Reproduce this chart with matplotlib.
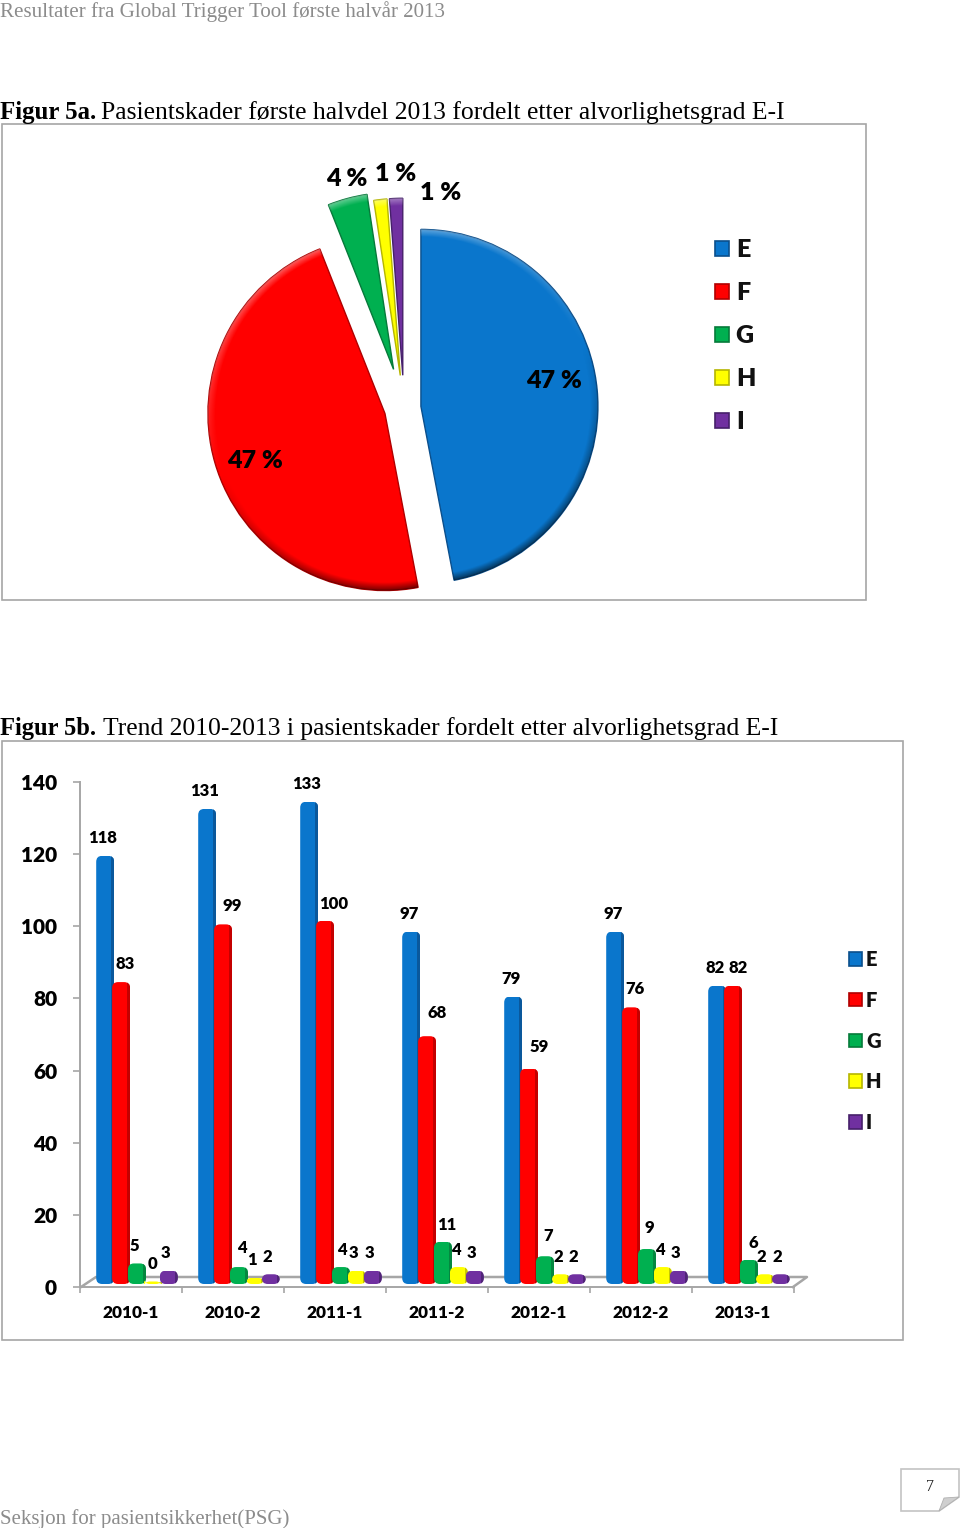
import matplotlib
matplotlib.use("Agg")
import matplotlib.pyplot as plt
import numpy as np
from matplotlib.patches import FancyBboxPatch, Patch, Polygon, Rectangle
from matplotlib.lines import Line2D

W, H = 960, 1528
SANS = "Lato"
SERIF = "Liberation Serif"
WEIGHT = "heavy"

# ---------- data ----------
SEVERITY = ["E", "F", "G", "H", "I"]
PIE_VALUES = [47, 47, 3.6, 1.2, 1.2]
PIE_LABELS = ["47 %", "47 %", "4 %", "1 %", "1 %"]
PERIODS = ["2010-1", "2010-2", "2011-1", "2011-2", "2012-1", "2012-2", "2013-1"]
E_VALUES = [118, 131, 133, 97, 79, 97, 82]
F_VALUES = [83, 99, 100, 68, 59, 76, 82]
G_VALUES = [5, 4, 4, 11, 7, 9, 6]
H_VALUES = [0, 1, 3, 4, 2, 4, 2]
I_VALUES = [3, 2, 3, 3, 2, 3, 2]
SERIES = [E_VALUES, F_VALUES, G_VALUES, H_VALUES, I_VALUES]
Y_TICKS = [0, 20, 40, 60, 80, 100, 120, 140]

# ---------- styles ----------
COLORS = ["#0A76CC", "#FF0000", "#00B050", "#FFFF00", "#7030A0"]
DARK = ["#0B4F8C", "#B00000", "#067A3A", "#B5B500", "#46206A"]
GREY = "#A6A6A6"
EXPLODE = [0.096, 0.112, 0.226, 0.185, 0.185]
PIE_LABEL_PX = [(554, 381), (255, 461), (347, 179), (396, 174), (441, 193)]
# label offsets in px from (bar centre, value)
LABEL_DX = [
    [-2.5] * 7,
    [4.5, 9, 8.5, 10, 10, 3.5, 5],
    [-3, 3, 1, 4, 3, 2, 4],
    [0, -3, -3, -3, -3, -3, -4],
    [-3.5] * 7,
]
LABEL_DY = [
    [23] * 7,
    [23.6, 24, 22, 29, 27, 24, 23],
    [23, 24.6, 22.6, 22, 26, 26.5, 22.4],
    [23] * 7,
    [23] * 7,
]

fig = plt.figure(figsize=(W / 100, H / 100), dpi=100, facecolor="white")


def px_axes(left, top, right, bottom, **kw):
    return fig.add_axes([left / W, 1 - bottom / H, (right - left) / W, (bottom - top) / H], **kw)


def ftext(x, y, s, **kw):
    kw.setdefault("va", "center")
    return fig.text(x / W, 1 - y / H, s, **kw)


def fit_text(x, y, s, width, **kw):
    t = ftext(x, y, s, fontsize=12, **kw)
    ext = t.get_window_extent(fig.canvas.get_renderer())
    t.set_fontsize(12 * width / ext.width)
    return t


# ---------- page text ----------
fit_text(0, 12, "Resultater fra Global Trigger Tool første halvår 2013", 443,
         family=SERIF, color="#8C8C8C")
fit_text(0, 113, "Figur 5a.", 96, family=SERIF, weight="bold", color="black")
fit_text(101, 113, "Pasientskader første halvdel 2013 fordelt etter alvorlighetsgrad E-I", 682,
         family=SERIF, color="black")
fit_text(0, 729, "Figur 5b.", 96, family=SERIF, weight="bold", color="black")
fit_text(103, 729, "Trend 2010-2013 i pasientskader fordelt etter alvorlighetsgrad E-I", 676,
         family=SERIF, color="black")
fit_text(0, 1519, "Seksjon for pasientsikkerhet(PSG)", 288, family=SERIF, color="#8C8C8C")

# chart frames
for (l, t, r, b) in [(2, 124, 866, 600), (2, 741, 903, 1340)]:
    fig.add_artist(Rectangle((l / W, 1 - b / H), (r - l) / W, (b - t) / H, transform=fig.transFigure,
                             fill=False, edgecolor=GREY, lw=1.2))

# page number box
box = [(901, 1469), (959, 1469), (959, 1497), (939, 1511), (901, 1511)]
fig.add_artist(Polygon([(x / W, 1 - y / H) for x, y in box], closed=True, transform=fig.transFigure,
                       facecolor="white", edgecolor="#C4C4C4", lw=1.2))
curl = [(959, 1497), (944, 1498), (939, 1511)]
fig.add_artist(Polygon([(x / W, 1 - y / H) for x, y in curl], closed=True, transform=fig.transFigure,
                       facecolor="#CFCFCF", edgecolor="#B0B0B0", lw=0.6))
ftext(930, 1487, "7", ha="center", family=SERIF, fontsize=11.5, color="#222222")

# ---------- pie ----------
R = 177
CX, CY, HALF = 404, 408, 240
ax_pie = px_axes(CX - HALF, CY - HALF, CX + HALF, CY + HALF)
wedges, _ = ax_pie.pie(PIE_VALUES, colors=COLORS, explode=EXPLODE, startangle=90,
                       counterclock=False, radius=1,
                       wedgeprops=dict(linewidth=1.0))
for w, d in zip(wedges, DARK):
    w.set_edgecolor(d)

# rim shading: bright towards the upper left, dark towards the lower right
grid = np.linspace(-1.02, 1.02, 500)
gx, gy = np.meshgrid(grid, grid)
gr = np.hypot(gx, gy)
rim = np.clip((gr - 0.955) / 0.045, 0, 1)
light = (-0.35 * gx + 0.94 * gy) / np.maximum(gr, 1e-6)
rgba = np.zeros(gx.shape + (4,))
rgba[..., :3] = np.where(light[..., None] > 0, 1.0, 0.0)
rgba[..., 3] = rim * np.where(light > 0, 0.40 * light, 0.55 * -light)
for w in wedges:
    cx0, cy0 = w.center
    im = ax_pie.imshow(rgba, origin="lower", zorder=w.get_zorder() + 1,
                       extent=(cx0 - 1.02, cx0 + 1.02, cy0 - 1.02, cy0 + 1.02))
    im.set_clip_path(w)

ax_pie.set_xlim(-HALF / R, HALF / R)
ax_pie.set_ylim(-HALF / R, HALF / R)
ax_pie.set_aspect("equal")
ax_pie.patch.set_alpha(0)

for s, (x, y) in zip(PIE_LABELS, PIE_LABEL_PX):
    ftext(x, y, s, ha="center", family=SANS, weight=WEIGHT, fontsize=18, color="black")


def legend(handles, x, y, size, spacing, hl, pad):
    leg = fig.legend(handles=handles, loc="upper left", bbox_to_anchor=(x / W, 1 - y / H),
                     frameon=False, prop=dict(family=SANS, weight=WEIGHT, size=size),
                     labelspacing=spacing, handlelength=hl, handleheight=hl, handletextpad=pad,
                     borderpad=0, borderaxespad=0)
    for txt in leg.get_texts():
        txt.set_color("#111111")
    return leg


def handles():
    return [Patch(facecolor=c, edgecolor=d, lw=1.2, label=s)
            for c, d, s in zip(COLORS, DARK, SEVERITY)]


legend(handles(), 715, 239, 18, 0.84, 0.56, 0.27)

# ---------- bars ----------
Y_SCALE = (1287 - 782) / 140  # px per unit
X_SCALE = 102  # px per category
ax = px_axes(80, 782, 794, 1287)
ax.set_xlim(-0.5, 6.5)
ax.set_ylim(0, 140)
ax.patch.set_alpha(0)

BASE = 0.83
CAP = 0.7
BAR_W = 18 / X_SCALE
STEP = 15.9 / X_SCALE
SHIFT = 6 / X_SCALE
ROUND = 6 / X_SCALE
aspect = X_SCALE / Y_SCALE

x_pos = list(range(len(PERIODS)))
for i, vals in enumerate(SERIES):
    xs = [p + SHIFT + (i - 2) * STEP for p in x_pos]
    body = ax.bar(xs, vals, BAR_W, bottom=BASE, color=COLORS[i], zorder=3 + i, linewidth=0)
    caps = ax.bar(xs, [CAP] * len(vals), BAR_W, bottom=[BASE + v for v in vals],
                  color=COLORS[i], zorder=3 + i, linewidth=0)
    shade = ax.bar([x + BAR_W * 0.42 for x in xs], [v + CAP for v in vals], BAR_W * 0.16, bottom=BASE,
                   color=DARK[i], alpha=0.75, zorder=3 + i, linewidth=0)
    for j, (x, v) in enumerate(zip(xs, vals)):
        clip = FancyBboxPatch((x - BAR_W / 2, BASE), BAR_W, v + CAP,
                              boxstyle=f"round,pad=0,rounding_size={ROUND}",
                              mutation_aspect=aspect, transform=ax.transData)
        body[j].set_clip_path(clip)
        caps[j].set_clip_path(clip)
        shade[j].set_clip_path(clip)
        ax.annotate(str(v), xy=(x, v), xycoords="data",
                    xytext=(LABEL_DX[i][j] * 0.72, LABEL_DY[i][j] * 0.72), textcoords="offset points",
                    ha="center", va="center", family=SANS, weight=WEIGHT, fontsize=12,
                    color="black", zorder=20, annotation_clip=False)

# 3-D floor behind the bars
floor_top = 10 / Y_SCALE
fx = lambda px: -0.5 + (px - 80) / X_SCALE
ax.add_line(Line2D([fx(81), fx(96), fx(807), fx(793)], [0, floor_top, floor_top, 0],
                   color=GREY, lw=1.8, clip_on=False, zorder=1))

for s in ["top", "right"]:
    ax.spines[s].set_visible(False)
for s in ["left", "bottom"]:
    ax.spines[s].set_color(GREY)
    ax.spines[s].set_linewidth(1.4)

ax.set_yticks(Y_TICKS)
ax.set_xticks([p - 0.5 for p in range(len(PERIODS) + 1)])
ax.set_xticklabels([])
ax.set_xticks(x_pos, minor=True)
ax.set_xticklabels(PERIODS, minor=True, family=SANS, weight=WEIGHT, fontsize=12.4, color="black")
ax.tick_params(axis="x", which="major", length=4, width=1.2, color=GREY)
ax.tick_params(axis="x", which="minor", length=0, pad=13)
ax.tick_params(axis="y", length=5, width=1.2, color=GREY, pad=11.5)
for t in ax.get_yticklabels():
    t.set(family=SANS, weight=WEIGHT, fontsize=15, color="black")

legend(handles(), 849, 950, 14.5, 1.08, 0.65, 0.2)

fig.savefig("out.png", dpi=100, facecolor="white")
